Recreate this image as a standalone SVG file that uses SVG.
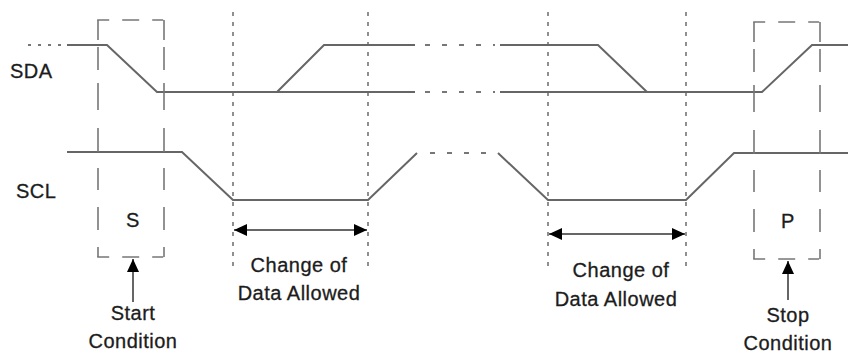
<svg xmlns="http://www.w3.org/2000/svg" width="848" height="354" viewBox="0 0 848 354">
  <defs>
    <style>
      .sig { fill: none; stroke: #666; stroke-width: 2; stroke-linejoin: miter; }
      .sigdot { fill: none; stroke: #777; stroke-width: 2; stroke-dasharray: 5 12; }
      .guide { fill: none; stroke: #555; stroke-width: 1.3; stroke-dasharray: 4 6; }
      .cond { fill: none; stroke: #777; stroke-width: 1.6; }
      .cond-h { stroke-dasharray: 12 13 17 13 11; }
      .cond-v { stroke-dasharray: 20 7 23 13 27 18 24 16 22 17 23 17 10; }
      .dim { fill: none; stroke: #666; stroke-width: 2; }
      .lbl { font-family: "Liberation Sans", Arial, sans-serif; font-size: 20px; letter-spacing: 0.5px; fill: #1c1c1c; stroke: #1c1c1c; stroke-width: 0.3; }
      .mid { text-anchor: middle; }
    </style>
    <marker id="ah" viewBox="0 0 13 12" refX="13" refY="6" markerWidth="13" markerHeight="12" markerUnits="userSpaceOnUse" orient="auto-start-reverse">
      <path d="M0,0 L13,6 L0,12 Z" fill="#000"/>
    </marker>
  </defs>

  <!-- signal names -->
  <g id="sda-label"><text class="lbl" x="10" y="78">SDA</text></g>
  <g id="scl-label"><text class="lbl" x="16" y="198">SCL</text></g>

  <!-- timing guides -->
  <g id="guides">
    <line class="guide" x1="233" y1="12" x2="233" y2="267"/>
    <line class="guide" x1="368" y1="12" x2="368" y2="267"/>
    <line class="guide" x1="548" y1="12" x2="548" y2="267"/>
    <line class="guide" x1="686" y1="12" x2="686" y2="267"/>
  </g>

  <!-- SDA waveform -->
  <g id="sda">
    <line x1="28" y1="45" x2="62" y2="45" stroke="#777" stroke-width="2" stroke-dasharray="3 7"/>
    <polyline class="sig" points="67,45 107,45 157,92 415,92"/>
    <polyline class="sig" points="277,92 324,45 415,45"/>
    <line class="sigdot" x1="425" y1="45" x2="495" y2="45"/>
    <line class="sigdot" x1="425" y1="92" x2="495" y2="92"/>
    <polyline class="sig" points="500,45 598,45 647,92"/>
    <polyline class="sig" points="500,92 762,92 812,45 848,45"/>
  </g>

  <!-- SCL waveform -->
  <g id="scl">
    <polyline class="sig" points="67,152 182,152 233,200 368,200 417,153"/>
    <line class="sigdot" x1="430" y1="153" x2="492" y2="153"/>
    <polyline class="sig" points="498,153 548,200 686,200 734,153 848,153"/>
  </g>

  <!-- start condition -->
  <g id="start">
    <line class="cond cond-h" x1="97.2" y1="20" x2="164.8" y2="20"/>
    <line class="cond cond-h" x1="97.2" y1="257" x2="164.8" y2="257"/>
    <line class="cond cond-v" x1="98" y1="20" x2="98" y2="257"/>
    <line class="cond cond-v" x1="164" y1="20" x2="164" y2="257"/>
    <text class="lbl mid" x="133" y="227">S</text>
    <text class="lbl mid" x="133" y="320">Start</text>
    <text class="lbl mid" x="133" y="348">Condition</text>
  </g>

  <!-- stop condition -->
  <g id="stop">
    <line class="cond cond-h" x1="753.2" y1="22" x2="820.8" y2="22"/>
    <line class="cond cond-h" x1="753.2" y1="259" x2="820.8" y2="259"/>
    <line class="cond cond-v" x1="754" y1="22" x2="754" y2="259"/>
    <line class="cond cond-v" x1="820" y1="22" x2="820" y2="259"/>
    <text class="lbl mid" x="788" y="228">P</text>
    <text class="lbl mid" x="788" y="322">Stop</text>
    <text class="lbl mid" x="788" y="350">Condition</text>
  </g>

  <!-- data-valid windows -->
  <g id="window1">
    <text class="lbl mid" x="299" y="272">Change of</text>
    <text class="lbl mid" x="299" y="300">Data Allowed</text>
  </g>
  <g id="window2">
    <text class="lbl mid" x="621" y="277">Change of</text>
    <text class="lbl mid" x="616" y="306">Data Allowed</text>
  </g>

  <!-- connectors -->
  <g id="connectors">
    <line class="dim" x1="234" y1="230" x2="367" y2="230" marker-start="url(#ah)" marker-end="url(#ah)"/>
    <line class="dim" x1="549" y1="234" x2="685" y2="234" marker-start="url(#ah)" marker-end="url(#ah)"/>
    <line class="dim" x1="133" y1="302" x2="133" y2="259" marker-end="url(#ah)"/>
    <line class="dim" x1="788" y1="300" x2="788" y2="261" marker-end="url(#ah)"/>
  </g>
</svg>
